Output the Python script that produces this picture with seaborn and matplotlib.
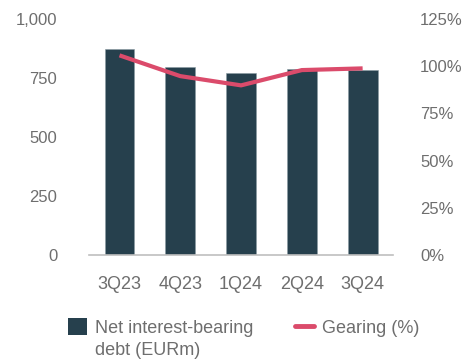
import matplotlib
matplotlib.use("Agg")
import matplotlib.pyplot as plt
import seaborn as sns
import pandas as pd
from matplotlib.patches import Patch
from matplotlib.lines import Line2D
from matplotlib.ticker import FuncFormatter

quarters = ["3Q23", "4Q23", "1Q24", "2Q24", "3Q24"]
net_debt = [872, 795, 770, 788, 786]
gearing = [105.8, 94.8, 89.9, 98.0, 98.9]

bar_color = "#26404D"
line_color = "#DB4B6B"
text_color = "#6E6E6E"

sns.set_theme(style="white")
plt.rcParams["font.family"] = ["Liberation Sans", "DejaVu Sans"]

df = pd.DataFrame({"quarter": quarters, "debt": net_debt, "gearing": gearing})

fig = plt.figure(figsize=(4.69, 3.61), dpi=100)
ax = fig.add_axes([0.190, 0.2936, 0.648, 0.6534])
sns.barplot(data=df, x="quarter", y="debt", color=bar_color, width=0.49,
            saturation=1, ax=ax, edgecolor="#8A9AA3", linewidth=0.4)
ax.set_xlim(-0.5, 4.5)
ax.set_ylim(0, 1000)
ax.set_yticks([0, 250, 500, 750, 1000])
ax.yaxis.set_major_formatter(FuncFormatter(lambda v, p: f"{int(v):,}"))
ax.set_xlabel("")
ax.set_ylabel("")

ax2 = ax.twinx()
sns.lineplot(x=list(range(len(quarters))), y=gearing, color=line_color,
             linewidth=3, ax=ax2, solid_capstyle="butt")
ax2.set_ylim(0, 125)
ax2.set_yticks([0, 25, 50, 75, 100, 125])
ax2.yaxis.set_major_formatter(FuncFormatter(lambda v, p: f"{int(v)}%"))
ax2.set_xlim(-0.5, 4.5)

for a in (ax, ax2):
    for s in ["top", "right", "left", "bottom"]:
        a.spines[s].set_visible(False)
    a.tick_params(length=0, labelsize=12, labelcolor=text_color)
    a.grid(False)
ax.spines["bottom"].set_visible(True)
ax.spines["bottom"].set_color("#BFBFBF")
ax.spines["bottom"].set_linewidth(1.2)
ax.tick_params(axis="y", pad=23)
ax.tick_params(axis="x", pad=15, labelsize=13)
ax2.tick_params(axis="y", pad=19.5)

handles = [Patch(facecolor=bar_color, edgecolor="none"),
           Line2D([0], [0], color=line_color, linewidth=3.5)]
labels = ["Net interest-bearing", "Gearing (%)"]
leg = fig.legend(handles, labels, loc="upper left", bbox_to_anchor=(0.145, 0.118),
                 ncol=2, frameon=False, fontsize=13, handlelength=1.05,
                 handleheight=1.05, handletextpad=0.45, columnspacing=2.3,
                 borderaxespad=0, borderpad=0, labelcolor=text_color)

fig.canvas.draw()
tb = leg.get_texts()[0].get_window_extent()
x0, y0 = fig.transFigure.inverted().transform((tb.x0, tb.y0 - 22))
fig.text(x0, y0, "debt (EURm)", fontsize=13, color=text_color, ha="left", va="bottom")

fig.savefig("out.png", dpi=100)
